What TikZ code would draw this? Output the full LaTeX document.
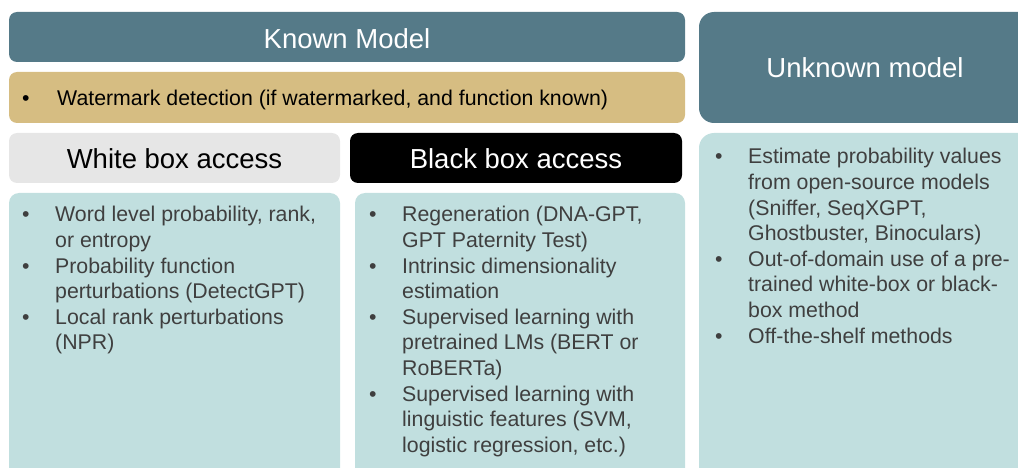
\documentclass[tikz,border=0pt]{standalone}
\usepackage{fontspec}
\setmainfont{Liberation Sans}
\definecolor{hdrteal}{HTML}{557A88}
\definecolor{wmtan}{HTML}{D6BD82}
\definecolor{lightgray}{HTML}{E6E6E6}
\definecolor{boxteal}{HTML}{C1DFDF}
\definecolor{bodytext}{HTML}{3F3F3F}
\newcommand{\bul}{\makebox[33pt][l]{•}}
\begin{document}
\begin{tikzpicture}[x=1pt,y=-1pt,
  hdrtext/.style={inner sep=0pt,anchor=base,font=\fontsize{27.5}{33}\selectfont},
  bodytxt/.style={inner sep=0pt,anchor=base west,text=bodytext,font=\fontsize{21.3}{25.6}\selectfont}]
\useasboundingbox (0,0) rectangle (1018,468);
% boxes
\fill[hdrteal,rounded corners=8pt] (9,12) rectangle (685,62);
\fill[wmtan,rounded corners=8pt] (9,72) rectangle (685,123);
\fill[lightgray,rounded corners=8pt] (9,133) rectangle (340,183);
\fill[black,rounded corners=8pt] (350,133) rectangle (682,183);
\fill[boxteal,rounded corners=10pt] (9,193) rectangle (340,490);
\fill[boxteal,rounded corners=10pt] (355,193) rectangle (685,490);
\fill[hdrteal,rounded corners=15pt] (699,12) rectangle (1040,123);
\fill[boxteal,rounded corners=15pt] (699,133) rectangle (1040,490);
% headers
\node[hdrtext,text=white] (known) at (347,48.3) {Known Model};
\node[hdrtext,text=black] (white) at (174.5,168.3) {White box access};
\node[hdrtext,text=white] (black) at (516,168.3) {Black box access};
\node[hdrtext,text=white] (unknown) at (865,77.3) {Unknown model};
% watermark
\node[bodytxt,text=black] (wm) at (22,105.5) {\makebox[35pt][l]{•}Watermark detection (if watermarked, and function known)};
% lists
\node[bodytxt] (wlist) at (22,222) {\begin{tabular}[t]{@{}l@{}l@{}}
\bul & Word level probability, rank,\\
 & or entropy\\
\bul & Probability function\\
 & perturbations (DetectGPT)\\
\bul & Local rank perturbations\\
 & (NPR)
\end{tabular}};
\node[bodytxt] (blist) at (369,222) {\begin{tabular}[t]{@{}l@{}l@{}}
\bul & Regeneration (DNA-GPT,\\
 & GPT Paternity Test)\\
\bul & Intrinsic dimensionality\\
 & estimation\\
\bul & Supervised learning with\\
 & pretrained LMs (BERT or\\
 & RoBERTa)\\
\bul & Supervised learning with\\
 & linguistic features (SVM,\\
 & logistic regression, etc.)
\end{tabular}};
\node[bodytxt] (ulist) at (715,164) {\begin{tabular}[t]{@{}l@{}l@{}}
\bul & Estimate probability values\\
 & from open-source models\\
 & (Sniffer, SeqXGPT,\\
 & Ghostbuster, Binoculars)\\
\bul & Out-of-domain use of a pre-\\
 & trained white-box or black-\\
 & box method\\
\bul & Off-the-shelf methods
\end{tabular}};
\end{tikzpicture}
\end{document}
